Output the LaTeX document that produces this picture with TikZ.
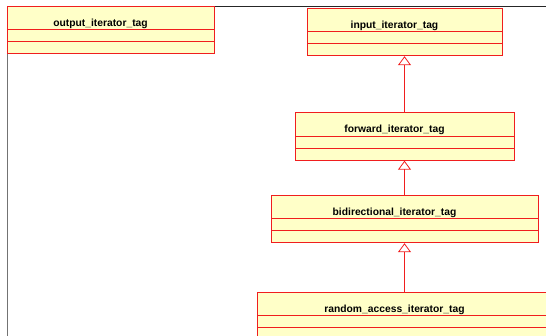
\documentclass[tikz,border=0pt]{standalone}
\usepackage{fontspec}
\setmainfont{Liberation Sans}
\usetikzlibrary{arrows.meta}
\usetikzlibrary{shapes}
\definecolor{clsfill}{RGB}{255,255,200}
\definecolor{clsline}{RGB}{240,30,30}
\newcommand{\clsname}[1]{\rule[-3pt]{0pt}{22.5pt}\textbf{#1}\hspace*{20pt}}

\begin{document}
\begin{tikzpicture}[x=1pt, y=-1pt,
  main/.style = {rectangle split, rectangle split parts=3, draw=clsline, fill=clsfill, line width=0.8pt,
    inner sep=0pt, rectangle split empty part height=11.25pt, rectangle split empty part depth=0pt,
    anchor=north, font=\fontsize{10.3}{12}\selectfont},
  gen/.style = {draw=clsline, line width=0.8pt, -{Triangle[open, width=13pt, length=9pt]}}]
    \useasboundingbox (0,0) rectangle (546,336);

    % Frame
    \draw[black!85, line width=0.8pt] (7,6) -- (546,6);
    \draw[black!55, line width=0.8pt] (7,6) -- (7,336);

    % Nodes
    \node[main, minimum width=207pt] (0) at (110.5,6) {\clsname{output\_iterator\_tag}};
    \node[main, minimum width=195pt] (1) at (404.5,8) {\clsname{input\_iterator\_tag}};
    \node[main, minimum width=219pt] (2) at (404.5,112.5) {\clsname{forward\_iterator\_tag}};
    \node[main, minimum width=267pt] (3) at (404.5,195) {\clsname{bidirectional\_iterator\_tag}};
    \node[main, minimum width=295pt] (4) at (404.5,292) {\clsname{random\_access\_iterator\_tag}};

    % Edges
    \draw[gen] (2) -- (1);
    \draw[gen] (3) -- (2);
    \draw[gen] (4) -- (3);

\end{tikzpicture}
\end{document}
